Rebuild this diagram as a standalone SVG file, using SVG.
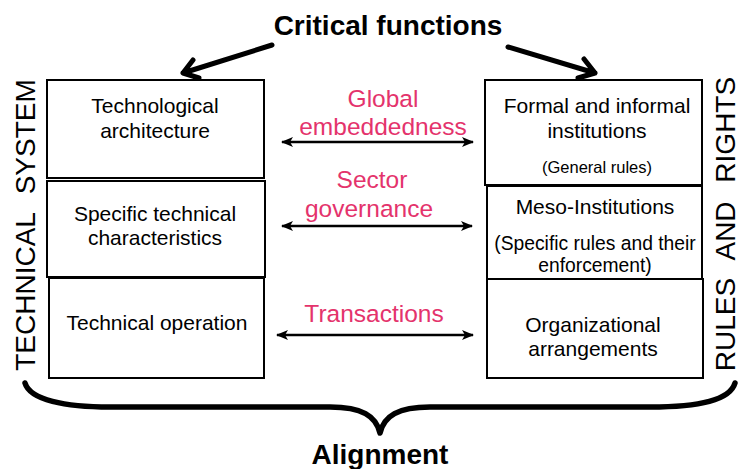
<svg xmlns="http://www.w3.org/2000/svg" width="738" height="469" viewBox="0 0 738 469">
<defs>
<marker id="ah" viewBox="0 0 12 10" refX="11" refY="5" markerWidth="12" markerHeight="10" markerUnits="userSpaceOnUse" orient="auto-start-reverse">
<path d="M0,0 L12,5 L0,10 L3,5 Z" fill="#000"/>
</marker>
</defs>
<style>
.box{fill:#fff;stroke:#000;stroke-width:2}
.t{font-family:"Liberation Sans",Arial,Helvetica,sans-serif;font-size:21px;fill:#000;text-anchor:middle}
.s{font-size:19.3px}
.g{font-size:16.5px}
.red{font-family:"Liberation Sans",Arial,Helvetica,sans-serif;font-size:24.5px;fill:#e4336c;text-anchor:middle}
.big{font-family:"Liberation Sans",Arial,Helvetica,sans-serif;font-size:28px;font-weight:bold;fill:#000;text-anchor:middle}
.side{font-family:"Liberation Sans",Arial,Helvetica,sans-serif;font-size:28px;fill:#000;text-anchor:middle;word-spacing:11px}
.dbl{stroke:#000;stroke-width:2.5;fill:none;marker-start:url(#ah);marker-end:url(#ah)}
.thick{stroke:#000;stroke-width:5;fill:none;stroke-linecap:round;stroke-linejoin:round}
.brace{stroke:#000;stroke-width:5.5;fill:none;stroke-linecap:round;stroke-linejoin:round}
</style>

<g id="title">
<text class="big" x="388" y="35">Critical functions</text>
</g>
<g id="alignment">
<text class="big" x="380" y="464">Alignment</text>
</g>
<g id="technical-system">
<text class="side" transform="translate(35,225) rotate(-90)">TECHNICAL SYSTEM</text>
</g>
<g id="rules-and-rights">
<text class="side" transform="translate(735,224) rotate(-90)">RULES AND RIGHTS</text>
</g>

<g id="tech-architecture">
<rect class="box" x="47" y="80" width="217" height="98"/>
<text class="t" x="155" y="113">Technological</text>
<text class="t" x="155" y="138">architecture</text>
</g>
<g id="specific-technical">
<rect class="box" x="47" y="181" width="218" height="96"/>
<text class="t" x="155" y="221">Specific technical</text>
<text class="t" x="155" y="245">characteristics</text>
</g>
<g id="technical-operation">
<rect class="box" x="49" y="278" width="215" height="100"/>
<text class="t" x="157" y="330">Technical operation</text>
</g>

<g id="formal-institutions">
<rect class="box" x="485" y="80" width="217" height="105"/>
<text class="t" x="597" y="113">Formal and informal</text>
<text class="t" x="597" y="138">institutions</text>
<text class="t g" x="597" y="173">(General rules)</text>
</g>
<g id="meso-institutions">
<rect class="box" x="487" y="186" width="215" height="93"/>
<text class="t" x="595" y="214">Meso-Institutions</text>
<text class="t s" x="595" y="250">(Specific rules and their</text>
<text class="t s" x="595" y="272">enforcement)</text>
</g>
<g id="organizational">
<rect class="box" x="487" y="279" width="216" height="99"/>
<text class="t" x="593" y="332">Organizational</text>
<text class="t" x="593" y="356">arrangements</text>
</g>

<g id="connectors">
<line class="dbl" x1="282" y1="142" x2="473" y2="142"/>
<line class="dbl" x1="282" y1="226" x2="472" y2="226"/>
<line class="dbl" x1="277" y1="335" x2="473" y2="335"/>
<path class="thick" d="M272,45 L183,73 M193,60 L183,73 L199,78"/>
<path class="thick" d="M508,47 L595,73 M584,59 L595,73 L578,78"/>
<path class="brace" d="M25,383 C30,400 65,407 110,407 L330,407 C362,407 376,416 380,433 C384,416 398,407 430,407 L650,407 C700,407 730,400 735,383"/>
</g>

<g id="labels">
<text class="red" x="383" y="107">Global</text>
<text class="red" x="383" y="135">embeddedness</text>
<text class="red" x="372" y="188">Sector</text>
<text class="red" x="369" y="217">governance</text>
<text class="red" x="374" y="322">Transactions</text>
</g>
</svg>
